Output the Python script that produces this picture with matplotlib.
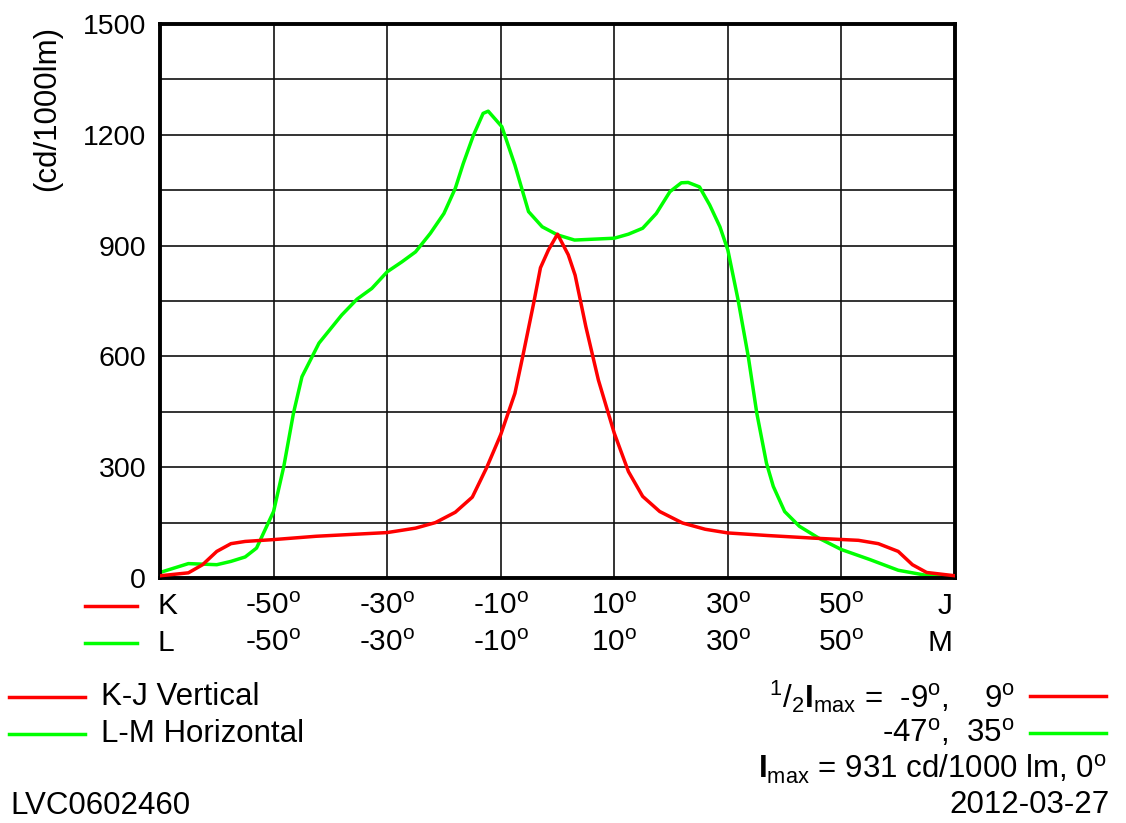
import matplotlib
matplotlib.use('Agg')
import matplotlib.pyplot as plt
from matplotlib.lines import Line2D
from matplotlib.transforms import blended_transform_factory

plt.rcParams['font.family'] = ['Liberation Sans', 'DejaVu Sans']
plt.rcParams['mathtext.fontset'] = 'custom'
plt.rcParams['mathtext.rm'] = 'Liberation Sans'
plt.rcParams['mathtext.it'] = 'Liberation Sans'
plt.rcParams['mathtext.bf'] = 'Liberation Sans:bold'

# K-J vertical (red)
kj_angle = [-70, -65, -62.5, -60, -57.5, -55, -50, -42.5, -35, -30, -25, -21.5, -18, -15,
            -12.5, -10, -7.5, -6, -4.2, -3, -1.6, 0, 1.9, 3.1, 5, 7.2, 10, 12.5, 15, 18,
            22, 26, 30, 37, 45, 53, 56.5, 60, 62.5, 65, 70]
kj_value = [6, 14, 36, 72, 93, 99, 104, 113, 119, 123, 135, 150, 178, 219,
            298, 388, 500, 609, 744, 840, 888, 931, 875, 820, 680, 536, 392, 288, 221, 180,
            149, 132, 122, 115, 108, 102, 93, 72, 36, 15, 6]

# L-M horizontal (green)
lm_angle = [-70, -65, -60, -57.5, -55, -53, -50, -48.2, -46.5, -45, -42, -38, -35.3, -32.7,
            -30, -27.4, -25, -22.4, -20, -18, -16.6, -14.8, -13.1, -12.2, -9.8, -7.5, -5.1,
            -2.7, 0, 3, 10, 12.5, 15, 17.4, 19.8, 21.8, 23, 25, 26.8, 28.6, 30, 31.8, 33.6,
            35.1, 36.8, 38, 40, 42.6, 46, 50, 55, 60, 65, 70]
lm_value = [15, 39, 36, 45, 57, 81, 180, 302, 446, 545, 636, 712, 755, 784,
            829, 856, 883, 933, 987, 1055, 1122, 1199, 1258, 1264, 1222, 1118, 992,
            951, 929, 915, 920, 931, 947, 987, 1046, 1070, 1071, 1059, 1010, 951, 888, 753, 599,
            446, 311, 248, 180, 140, 108, 77, 50, 21, 7, 6]

x_ticks = [-50, -30, -10, 10, 30, 50]
x_labels = ['-50', '-30', '-10', '10', '30', '50']
y_ticks = [0, 300, 600, 900, 1200, 1500]

red = '#ff0000'
green = '#00ff00'
W, H = 1126, 823
fs = 22.5
deg = r'$^{\mathrm{o}}$'

fig = plt.figure(figsize=(W / 100, H / 100), dpi=100)
ax = fig.add_axes([160 / W, 1 - 578 / H, 795 / W, 554 / H])
ax.set_xlim(-70, 70)
ax.set_ylim(0, 1500)

for v in range(150, 1500, 150):
    ax.axhline(v, color='#111111', lw=1.2, zorder=1)
for v in x_ticks:
    ax.axvline(v, color='#111111', lw=1.2, zorder=1)

ax.plot(kj_angle, kj_value, color=red, lw=2.5, zorder=3)
ax.plot(lm_angle, lm_value, color=green, lw=2.5, zorder=2)

for s in ax.spines.values():
    s.set_linewidth(2.8)
ax.set_xticks([])
ax.set_yticks(y_ticks)
ax.set_yticklabels([str(v) for v in y_ticks], fontsize=20.5)
ax.tick_params(axis='y', length=0, pad=10)

fig.text(47 / W, 1 - 26 / H, '(cd/1000lm)', rotation=90, ha='center', va='top', fontsize=fs)

# angle rows under the axis
tr = blended_transform_factory(ax.transData, fig.transFigure)
rows = [(1 - 606 / H, 'K', 'J', red), (1 - 643 / H, 'L', 'M', green)]
for y, left, right, col in rows:
    for t, lab in zip(x_ticks, x_labels):
        ax.text(t, y, lab + deg, transform=tr, ha='center', va='center', fontsize=21.5)
    fig.text(158 / W, y, left, ha='left', va='center', fontsize=21.5)
    ax.text(69.6, y, right, transform=tr, ha='right', va='center', fontsize=21.5)
    fig.add_artist(Line2D([85 / W, 137 / W], [y, y], color=col, lw=2.5))

# legend bottom-left
fig.add_artist(Line2D([9 / W, 85 / W], [1 - 697 / H] * 2, color=red, lw=2.5))
fig.add_artist(Line2D([9 / W, 85 / W], [1 - 734 / H] * 2, color=green, lw=2.5))
fig.text(101 / W, 1 - 697 / H, 'K-J Vertical', ha='left', va='center', fontsize=fs)
fig.text(101 / W, 1 - 734 / H, 'L-M Horizontal', ha='left', va='center', fontsize=fs)
fig.text(10 / W, 1 - 806 / H, 'LVC0602460', ha='left', va='center', fontsize=fs)

# half-intensity info bottom-right
fig.text(1015 / W, 1 - 697 / H,
         r'$^{1}/_{2}\mathbf{I}_{\mathrm{max}}$ =  -9' + deg + ',    9' + deg,
         ha='right', va='center', fontsize=fs)
fig.text(1015 / W, 1 - 733 / H, '-47' + deg + ',  35' + deg,
         ha='right', va='center', fontsize=fs)
fig.add_artist(Line2D([1030 / W, 1106 / W], [1 - 696 / H] * 2, color=red, lw=2.5))
fig.add_artist(Line2D([1030 / W, 1106 / W], [1 - 733 / H] * 2, color=green, lw=2.5))
fig.text(1107 / W, 1 - 769 / H, r'$\mathbf{I}_{\mathrm{max}}$ = 931 cd/1000 lm, 0' + deg,
         ha='right', va='center', fontsize=fs)
fig.text(1110 / W, 1 - 805 / H, '2012-03-27', ha='right', va='center', fontsize=fs)

fig.savefig('out.png', dpi=100)
